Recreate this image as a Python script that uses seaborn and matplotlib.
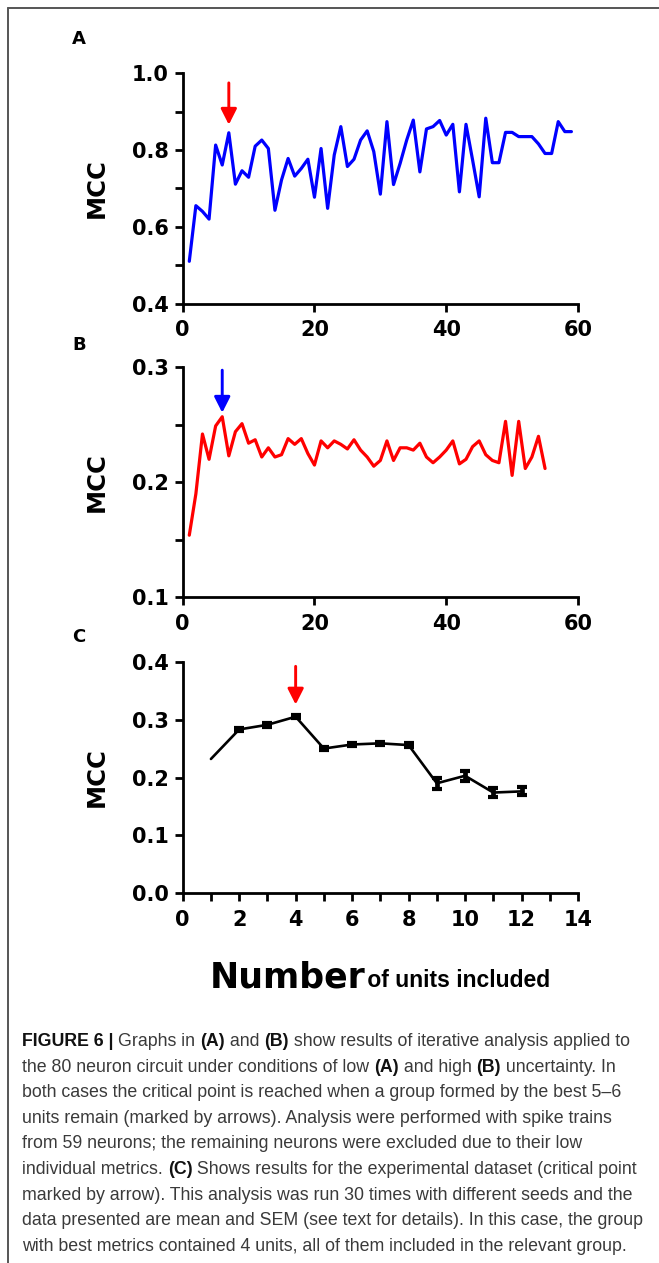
import matplotlib
matplotlib.use("Agg")
import matplotlib.pyplot as plt
import seaborn as sns
import pandas as pd
from matplotlib.lines import Line2D
from matplotlib.ticker import MultipleLocator, FormatStrFormatter
from matplotlib import font_manager
from matplotlib.font_manager import FontProperties

# ---- data -------------------------------------------------------------
units_a = list(range(1, 60))
mcc_a = [0.51, 0.655, 0.64, 0.62, 0.813, 0.761, 0.845, 0.711, 0.746, 0.729,
         0.81, 0.826, 0.804, 0.643, 0.722, 0.778, 0.732, 0.752, 0.776, 0.677,
         0.804, 0.648, 0.787, 0.861, 0.757, 0.776, 0.826, 0.85, 0.796, 0.685,
         0.874, 0.71, 0.765, 0.826, 0.878, 0.743, 0.855, 0.861, 0.877, 0.839,
         0.867, 0.691, 0.867, 0.774, 0.678, 0.883, 0.767, 0.767, 0.846, 0.846,
         0.835, 0.835, 0.835, 0.816, 0.791, 0.791, 0.874, 0.848, 0.848]

units_b = list(range(1, 56))
mcc_b = [0.154, 0.19, 0.242, 0.22, 0.249, 0.257, 0.223, 0.244, 0.251, 0.234,
         0.237, 0.222, 0.23, 0.222, 0.224, 0.238, 0.233, 0.238, 0.225, 0.215,
         0.236, 0.23, 0.236, 0.233, 0.229, 0.237, 0.228, 0.222, 0.214, 0.219,
         0.236, 0.219, 0.23, 0.23, 0.228, 0.234, 0.222, 0.217, 0.222, 0.228,
         0.236, 0.216, 0.22, 0.231, 0.236, 0.224, 0.219, 0.217, 0.253, 0.206,
         0.253, 0.212, 0.222, 0.24, 0.212]

units_c = list(range(1, 13))
mean_c = [0.232, 0.283, 0.291, 0.305, 0.250, 0.257, 0.259, 0.256, 0.190, 0.203, 0.174, 0.176]
sem_c = [0.0, 0.003, 0.003, 0.003, 0.003, 0.003, 0.003, 0.003, 0.009, 0.009, 0.008, 0.007]

# critical points (x position of the arrows)
crit_a, crit_b, crit_c = 7, 6, 4

caption_lines = [
    [("FIGURE 6 | ", True), ("Graphs in ", False), ("(A)", True), (" and ", False), ("(B)", True),
     (" show results of iterative analysis applied to", False)],
    [("the 80 neuron circuit under conditions of low ", False), ("(A)", True), (" and high ", False),
     ("(B)", True), (" uncertainty. In", False)],
    [("both cases the critical point is reached when a group formed by the best 5\u20136", False)],
    [("units remain (marked by arrows). Analysis were performed with spike trains", False)],
    [("from 59 neurons; the remaining neurons were excluded due to their low", False)],
    [("individual metrics. ", False), ("(C)", True),
     (" Shows results for the experimental dataset (critical point", False)],
    [("marked by arrow). This analysis was run 30 times with different seeds and the", False)],
    [("data presented are mean and SEM (see text for details). In this case, the group", False)],
    [("with best metrics contained 4 units, all of them included in the relevant group.", False)],
]

# ---- style ------------------------------------------------------------
sns.set_style("ticks")
plt.rcParams["font.family"] = ["DejaVu Sans"]
installed = {f.name for f in font_manager.fontManager.ttflist}
narrow = "Liberation Sans Narrow" if "Liberation Sans Narrow" in installed else "Liberation Sans"
chart_font = "DejaVu Sans"

W, H = 659, 1263
fig = plt.figure(figsize=(W / 100, H / 100), dpi=100)
fig.patch.set_facecolor("white")


def px_axes(left, top, right, bottom):
    return fig.add_axes([left / W, 1 - bottom / H, (right - left) / W, (bottom - top) / H])


ax_a = px_axes(182.7, 73.3, 578, 303.5)
ax_b = px_axes(182.7, 367.3, 578, 597.3)
ax_c = px_axes(182.7, 661.7, 578, 893.3)

df_a = pd.DataFrame({"units": units_a, "mcc": mcc_a})
df_b = pd.DataFrame({"units": units_b, "mcc": mcc_b})
df_c = pd.DataFrame({"units": units_c, "mcc": mean_c, "sem": sem_c})

sns.lineplot(data=df_a, x="units", y="mcc", ax=ax_a, color="#0000ff", lw=2.3)
sns.lineplot(data=df_b, x="units", y="mcc", ax=ax_b, color="#ff0000", lw=2.3)
sns.lineplot(data=df_c, x="units", y="mcc", ax=ax_c, color="black", lw=1.9)
ax_c.errorbar(df_c["units"][1:], df_c["mcc"][1:], yerr=df_c["sem"][1:], fmt="none",
              ecolor="black", elinewidth=3.4, capsize=3.4, capthick=3.0)


def arrow(ax, x, y0, y1, color):
    ax.annotate("", xy=(x, y1), xytext=(x, y0),
                arrowprops=dict(arrowstyle="-|>,head_length=0.95,head_width=0.48",
                                color=color, lw=2.1, shrinkA=0, shrinkB=0),
                annotation_clip=False)


arrow(ax_a, crit_a, 0.975, 0.866, "#ff0000")
arrow(ax_b, crit_b, 0.2975, 0.2605, "#0000ff")
arrow(ax_c, crit_c, 0.392, 0.326, "#ff0000")


def style_axes(ax, xlim, ylim, xmaj, xmin, ymaj, ymin, yfmt):
    ax.set_xlim(*xlim)
    ax.set_ylim(*ylim)
    ax.xaxis.set_major_locator(MultipleLocator(xmaj))
    ax.yaxis.set_major_locator(MultipleLocator(ymaj))
    if xmin:
        ax.xaxis.set_minor_locator(MultipleLocator(xmin))
    if ymin:
        ax.yaxis.set_minor_locator(MultipleLocator(ymin))
    ax.yaxis.set_major_formatter(FormatStrFormatter(yfmt))
    ax.xaxis.set_major_formatter(FormatStrFormatter("%d"))
    for s in ["top", "right"]:
        ax.spines[s].set_visible(False)
    for s in ["left", "bottom"]:
        ax.spines[s].set_linewidth(2.0)
        ax.spines[s].set_color("black")
    ax.tick_params(which="both", direction="out", length=5.5, width=2.0, color="black")
    ax.tick_params(axis="x", which="major", pad=6.5)
    ax.tick_params(axis="y", which="major", pad=4.5)
    ax.set_xlabel("")
    ax.set_ylabel("")
    for lab in ax.get_xticklabels() + ax.get_yticklabels():
        lab.set_fontsize(15)
        lab.set_fontweight("bold")
        lab.set_family(chart_font)
        lab.set_color("black")
    ax.patch.set_alpha(0)


style_axes(ax_a, (0, 60), (0.4, 1.0), 20, None, 0.2, 0.1, "%.1f")
style_axes(ax_b, (0, 60), (0.1, 0.3), 20, None, 0.1, 0.05, "%.1f")
style_axes(ax_c, (0, 14), (0.0, 0.4), 2, 1, 0.1, None, "%.1f")

# y labels and panel letters
for ax, letter, ly in [(ax_a, "A", 39), (ax_b, "B", 345), (ax_c, "C", 637)]:
    bb = ax.get_position()
    fig.text(97 / W, (bb.y0 + bb.y1) / 2, "MCC", rotation=90, ha="center", va="center",
             fontsize=17.5, fontweight="bold", family=chart_font, color="black")
    fig.text(79 / W, 1 - ly / H, letter, ha="center", va="center",
             fontsize=13, fontweight="bold", family=chart_font, color="black")

renderer = fig.canvas.get_renderer()


def advance(text, prop):
    w1 = renderer.get_text_width_height_descent(text + ".", prop, ismath=False)[0]
    w0 = renderer.get_text_width_height_descent(".", prop, ismath=False)[0]
    return w1 - w0


def draw_runs(x0, y, runs, sizes, families, colors):
    x = x0
    for (text, bold), size, family in zip(runs, sizes, families):
        prop = FontProperties(family=family, size=size, weight="bold" if bold else "normal")
        fig.text(x / W, 1 - y / H, text, fontproperties=prop, ha="left", va="baseline",
                 color=colors[bold])
        x += advance(text, prop)
    return x


# shared x-axis title
draw_runs(210, 987, [("Number", True), (" of units included", True)], [25, 16.5],
          [chart_font, "Liberation Sans"], {True: "black", False: "black"})

# caption, sized so that the first line spans the text block
probe = 0.0
for text, bold in caption_lines[0]:
    probe += advance(text, FontProperties(family=narrow, size=10, weight="bold" if bold else "normal"))
cap_size = 10 * 610 / probe
for i, runs in enumerate(caption_lines):
    draw_runs(22, 1046 + 25.6 * i, runs, [cap_size] * len(runs), [narrow] * len(runs),
              {True: "#111111", False: "#3a3a3a"})

# figure frame
fig.add_artist(Line2D([8 / W, 1], [1 - 8 / H, 1 - 8 / H], transform=fig.transFigure,
                      color="#555555", lw=1.4))
fig.add_artist(Line2D([8 / W, 8 / W], [0, 1 - 8 / H], transform=fig.transFigure,
                      color="#555555", lw=1.4))

fig.savefig("out.png", dpi=100, facecolor="white")
